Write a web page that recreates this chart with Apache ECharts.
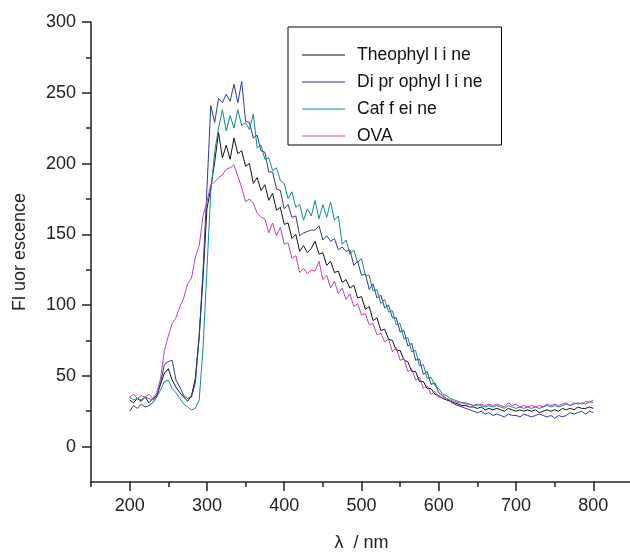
<!DOCTYPE html>
<html>
<head>
<meta charset="utf-8">
<script src="https://cdn.jsdelivr.net/npm/echarts@6/dist/echarts.min.js"></script>
<style>
  html, body { margin: 0; padding: 0; background: #fff; }
  #chart { width: 630px; height: 552px; }
</style>
</head>
<body>
<div id="chart"></div>
<script>
// wavelengths 200..800 nm, 5 nm step
const wavelengths = []
for (let w = 200; w <= 800; w += 5) wavelengths.push(w)

// one row = 100 nm
const theophylline = [
  33, 31, 34, 32, 35, 31, 34, 36, 44, 52, 55, 47, 42, 38, 35, 32, 36, 48, 78, 120,
  168, 183, 201, 222, 204, 213, 203, 218, 207, 209, 198, 200, 186, 190, 181, 185, 174, 179, 167, 169,
  157, 158, 147, 150, 138, 142, 137, 140, 145, 136, 137, 128, 131, 123, 124, 116, 118, 112, 114, 105,
  106, 97, 99, 89, 91, 82, 83, 76, 75, 68, 68, 61, 60, 53, 53, 46, 46, 41, 41, 37,
  36, 34, 33, 32, 31, 30, 29, 29, 28, 28, 27, 28, 26, 27, 26, 27, 26, 25, 27, 26,
  25, 26, 25, 26, 25, 26, 24, 25, 26, 25, 26, 25, 27, 26, 27, 26, 28, 27, 27, 28,
  27
]
const diprophylline = [
  25, 29, 27, 30, 28, 29, 31, 35, 45, 58, 60, 61, 47, 42, 36, 34, 35, 45, 78, 125,
  182, 241, 229, 246, 243, 249, 244, 256, 243, 258, 230, 229, 218, 220, 209, 208, 194, 194, 182, 181,
  168, 171, 162, 163, 149, 151, 152, 153, 153, 156, 146, 149, 145, 147, 139, 141, 138, 139, 128, 131,
  121, 122, 111, 115, 105, 107, 98, 100, 91, 91, 81, 82, 71, 73, 61, 62, 51, 53, 44, 45,
  38, 36, 34, 32, 30, 29, 28, 27, 26, 25, 24, 25, 23, 24, 22, 23, 22, 21, 23, 22,
  22, 21, 23, 22, 21, 22, 23, 22, 21, 22, 20, 22, 21, 22, 24, 23, 24, 25, 23, 25,
  24
]
const caffeine = [
  35, 33, 34, 33, 35, 34, 33, 35, 40, 46, 47, 41, 38, 34, 30, 28, 26, 27, 33, 70,
  125, 180, 208, 225, 238, 223, 234, 225, 238, 227, 229, 224, 235, 211, 213, 203, 204, 195, 197, 188,
  186, 175, 180, 169, 171, 160, 168, 163, 174, 161, 171, 162, 173, 160, 163, 143, 146, 136, 139, 130,
  133, 121, 121, 110, 111, 101, 104, 95, 96, 86, 87, 76, 77, 67, 68, 57, 58, 48, 49, 43,
  41, 37, 36, 34, 33, 32, 31, 31, 30, 29, 30, 29, 28, 29, 28, 29, 28, 27, 29, 28,
  27, 28, 27, 28, 27, 28, 27, 28, 29, 28, 29, 28, 29, 30, 29, 31, 30, 31, 30, 32,
  31
]
const ova = [
  35, 37, 34, 36, 35, 37, 34, 38, 48, 68, 78, 87, 91, 99, 105, 115, 119, 134, 142, 163,
  173, 185, 187, 190, 192, 196, 197, 199, 191, 183, 173, 175, 172, 165, 162, 161, 151, 158, 149, 155,
  143, 144, 133, 135, 123, 126, 122, 125, 124, 131, 118, 121, 112, 117, 108, 112, 104, 108, 99, 101,
  93, 94, 86, 87, 79, 80, 74, 76, 67, 70, 61, 62, 53, 55, 47, 49, 41, 43, 37, 39,
  35, 35, 34, 33, 32, 31, 31, 30, 30, 29, 29, 30, 29, 30, 29, 30, 29, 28, 31, 29,
  30, 28, 29, 28, 29, 28, 29, 28, 30, 29, 30, 29, 30, 31, 29, 30, 31, 30, 32, 31,
  33
]

const seriesNames = ['Theophyl l i ne', 'Di pr ophyl l i ne', 'Caf f ei ne', 'OVA']
const seriesData = [theophylline, diprophylline, caffeine, ova]
const seriesColors = ['#111111', '#2b3b9e', '#0e8c8c', '#c23fbf']

const xMajorTicks = [200, 300, 400, 500, 600, 700, 800]
const xMinorTicks = [150, 250, 350, 450, 550, 650, 750]
const yMajorTicks = [0, 50, 100, 150, 200, 250, 300]
const yMinorTicks = [25, 75, 125, 175, 225, 275]

const axisColor = '#222'
const fontFamily = 'Liberation Sans, Arial, sans-serif'

const chart = echarts.init(document.getElementById('chart'))

const option = {
  animation: false,
  backgroundColor: '#fff',
  textStyle: { fontFamily },
  grid: { left: 91, right: -2, top: 22, bottom: 70, containLabel: false, outerBoundsMode: 'none' },
  legend: {
    orient: 'vertical',
    left: 288,
    top: 27,
    borderColor: '#000',
    borderWidth: 1,
    padding: [19, 19, 0, 14],
    itemGap: 9,
    itemWidth: 43,
    itemHeight: 1.2,
    icon: 'rect',
    textStyle: { fontSize: 17.5, color: '#111', padding: [0, 0, 0, 7] },
    data: seriesNames
  },
  xAxis: [
    {
      type: 'value',
      min: 150,
      max: 850,
      name: 'λ  / nm',
      nameLocation: 'middle',
      nameGap: 52,
      nameTextStyle: { fontSize: 18, color: axisColor },
      axisLine: { show: true, onZero: false, lineStyle: { color: axisColor, width: 1.5 } },
      axisTick: { show: true, length: 9, customValues: xMajorTicks, lineStyle: { color: axisColor, width: 1.5 } },
      axisLabel: { fontSize: 18, color: axisColor, margin: 15, customValues: xMajorTicks },
      splitLine: { show: false }
    },
    {
      type: 'value',
      position: 'bottom',
      min: 150,
      max: 850,
      axisLine: { show: false, onZero: false },
      axisTick: { show: true, length: 5, customValues: xMinorTicks, lineStyle: { color: axisColor, width: 1.5 } },
      axisLabel: { show: false },
      splitLine: { show: false }
    }
  ],
  yAxis: [
    {
      type: 'value',
      min: -25,
      max: 300,
      name: 'Fl uor escence',
      nameLocation: 'middle',
      nameGap: 62,
      nameRotate: 90,
      nameTextStyle: { fontSize: 18, color: axisColor },
      axisLine: { show: true, onZero: false, lineStyle: { color: axisColor, width: 1.5 } },
      axisTick: { show: true, length: 9, customValues: yMajorTicks, lineStyle: { color: axisColor, width: 1.5 } },
      axisLabel: { fontSize: 18, color: axisColor, margin: 15, customValues: yMajorTicks },
      splitLine: { show: false }
    },
    {
      type: 'value',
      position: 'left',
      min: -25,
      max: 300,
      axisLine: { show: false, onZero: false },
      axisTick: { show: true, length: 5, customValues: yMinorTicks, lineStyle: { color: axisColor, width: 1.5 } },
      axisLabel: { show: false },
      splitLine: { show: false }
    }
  ],
  series: seriesNames.map((name, i) => ({
    name,
    type: 'line',
    xAxisIndex: 0,
    yAxisIndex: 0,
    symbol: 'none',
    showSymbol: false,
    lineStyle: { width: 1, color: seriesColors[i] },
    itemStyle: { color: seriesColors[i] },
    data: wavelengths.map((w, k) => [w, seriesData[i][k]])
  }))
}

chart.setOption(option)
</script>
</body>
</html>
